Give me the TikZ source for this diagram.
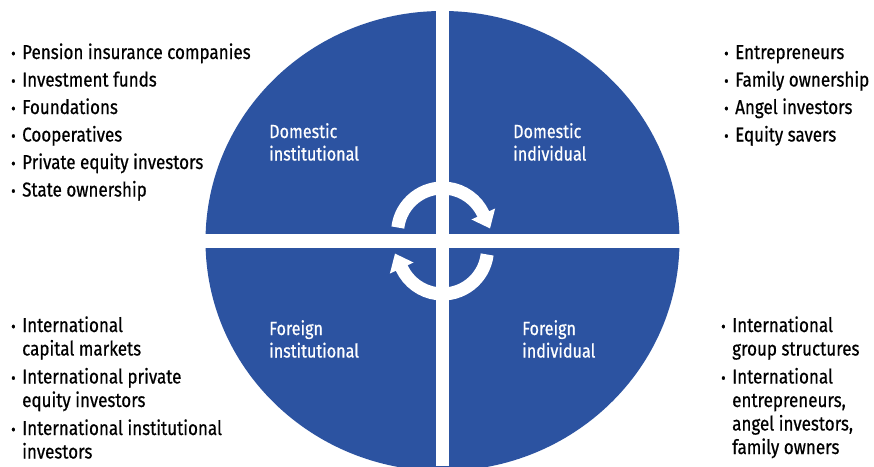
\documentclass[tikz,border=0pt]{standalone}
\usepackage{fontspec}
\setmainfont[FakeStretch=0.85,FakeBold=0.6]{Fira Sans}
\usetikzlibrary{arrows.meta,calc}
\definecolor{ownblue}{RGB}{44,83,161}
\tikzstyle{annot} = [inner sep=0pt, anchor=base west, font=\fontsize{20}{23.5}\selectfont]
\tikzstyle{quadlabel} = [annot, text=white, font=\fontsize{19}{22.5}\selectfont]
\tikzstyle{turn} = [white, line width=13pt, -{Triangle[width=25pt,length=16pt]}]
\newcommand{\blt}{\scalebox{0.8}{\textbullet}}

\begin{document}
\begin{tikzpicture}[x=1pt,y=-1pt]
	\clip (0,0) rectangle (874,466);
	\fill[white] (0,0) rectangle (874,466);
	\coordinate (mid) at (442.5,241);

	% disc and the white cross
	\fill[ownblue] (mid) ellipse [x radius=237, y radius=230];
	\fill[white] (436,0) rectangle (449,466);
	\fill[white] (0,234) rectangle (874,248);

	% the two turning arrows
	\draw[turn] ($(mid)+(0,-8)$) ++(187:45) arc[start angle=187, end angle=335, radius=45] -- ++(65:16);
	\draw[turn] ($(mid)+(0,8)$) ++(7:45) arc[start angle=7, end angle=155, radius=45] -- ++(245:16);

	% quadrant names
	\node[quadlabel] (domInst) at (269,138) {\begin{tabular}[t]{@{}l@{}}Domestic\\institutional\end{tabular}};
	\node[quadlabel] (domInd) at (513,138) {\begin{tabular}[t]{@{}l@{}}Domestic\\individual\end{tabular}};
	\node[quadlabel] (forInst) at (269,335) {\begin{tabular}[t]{@{}l@{}}Foreign\\institutional\end{tabular}};
	\node[quadlabel] (forInd) at (522,335) {\begin{tabular}[t]{@{}l@{}}Foreign\\individual\end{tabular}};

	% lists of owners
	\node[annot] (domInstList) at (11,59) {\begin{tabular}[t]{@{}p{11pt}@{}l@{}}
		\blt & Pension insurance companies\\[4pt]
		\blt & Investment funds\\[4pt]
		\blt & Foundations\\[4pt]
		\blt & Cooperatives\\[4pt]
		\blt & Private equity investors\\[4pt]
		\blt & State ownership
	\end{tabular}};
	\node[annot] (domIndList) at (724,59) {\begin{tabular}[t]{@{}p{11pt}@{}l@{}}
		\blt & Entrepreneurs\\[4pt]
		\blt & Family ownership\\[4pt]
		\blt & Angel investors\\[4pt]
		\blt & Equity savers
	\end{tabular}};
	\node[annot] (forInstList) at (11,332) {\begin{tabular}[t]{@{}p{11pt}@{}l@{}}
		\blt & International\\
		& capital markets\\[4.5pt]
		\blt & International private\\
		& equity investors\\[4.5pt]
		\blt & International institutional\\
		& investors
	\end{tabular}};
	\node[annot] (forIndList) at (721,332) {\begin{tabular}[t]{@{}p{11pt}@{}l@{}}
		\blt & International\\
		& group structures\\[4.5pt]
		\blt & International\\
		& entrepreneurs,\\
		& angel investors,\\
		& family owners
	\end{tabular}};
\end{tikzpicture}
\end{document}
